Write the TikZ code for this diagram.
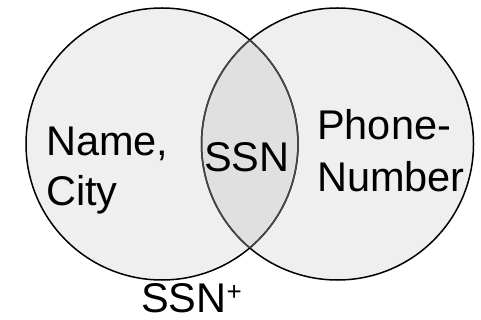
\documentclass[tikz,border=0pt]{standalone}
\usepackage{fontspec}
\setmainfont{Liberation Sans}
\begin{document}
\begin{tikzpicture}[x=1pt,y=-1pt,
  lbl/.style={anchor=base west,inner sep=0pt,font=\fontsize{41.5}{48}\selectfont},
  setc/.style={circle,minimum size=272pt,inner sep=0pt}]
\useasboundingbox (0,0) rectangle (481,320);
\node[setc,fill={rgb,255:red,239;green,239;blue,239}] (L) at (162,144) {};
\node[setc,fill={rgb,255:red,239;green,239;blue,239}] (R) at (337.5,144) {};
\begin{scope}
  \clip (162,144) circle (136);
  \fill[fill={rgb,255:red,224;green,224;blue,224}] (337.5,144) circle (136);
\end{scope}
\draw[line width=1.5pt] (162,144) circle (136);
\draw[line width=1.5pt] (337.5,144) circle (136);
\begin{scope}
  \clip (162,144) circle (136);
  \draw[line width=1.5pt,draw={rgb,255:red,70;green,70;blue,70}] (337.5,144) circle (136);
\end{scope}
\begin{scope}
  \clip (337.5,144) circle (136);
  \draw[line width=1.5pt,draw={rgb,255:red,70;green,70;blue,70}] (162,144) circle (136);
\end{scope}
\node[lbl] (name) at (46,156) {Name,};
\node[lbl] (city) at (46,205) {City};
\node[lbl] (ssn) at (204,172) {SSN};
\node[lbl] (phone) at (317,140) {Phone-};
\node[lbl] (number) at (317,192) {Number};
\node[lbl] (ssnp) at (141,312) {SSN\raisebox{12pt}{\fontsize{26}{26}\selectfont +}};
\end{tikzpicture}
\end{document}
